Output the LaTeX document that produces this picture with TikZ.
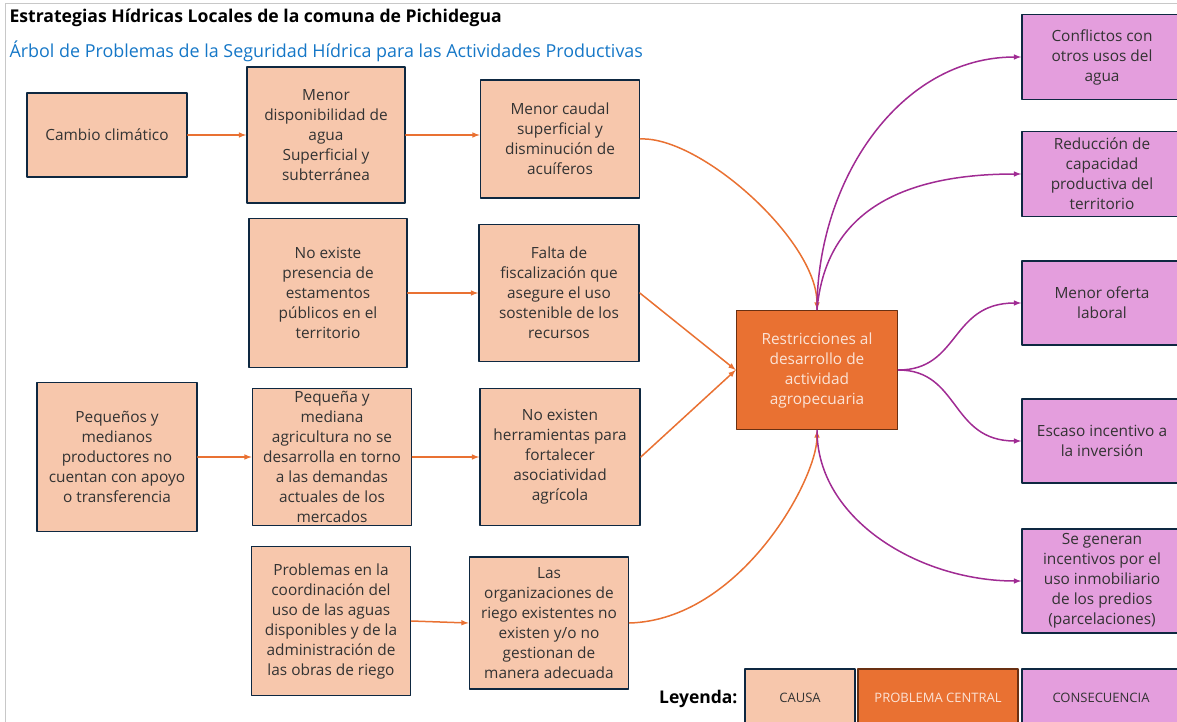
\documentclass[tikz,border=0pt]{standalone}
\usepackage{fontspec}
\setmainfont{Open Sans}
\definecolor{causafill}{RGB}{247,199,172}
\definecolor{centralfill}{RGB}{233,113,50}
\definecolor{consfill}{RGB}{228,158,221}
\definecolor{bordeazul}{RGB}{14,40,65}
\definecolor{bordecafe}{RGB}{105,48,18}
\definecolor{textocentral}{RGB}{251,227,214}
\definecolor{flechanaranja}{RGB}{233,113,50}
\definecolor{flechamorada}{RGB}{160,43,147}
\definecolor{tituloazul}{RGB}{21,119,199}
\definecolor{marcogris}{RGB}{200,200,200}

\begin{document}
\begin{tikzpicture}[x=1pt,y=-1pt,line cap=round,line join=round,
    caja/.style={draw=bordeazul,line width=1.6pt,align=center,inner sep=0pt,
        text=black!80,font=\fontsize{15.4}{20}\selectfont},
    causa/.style={caja,fill=causafill},
    problema/.style={caja,fill=centralfill,draw=bordecafe,text=textocentral},
    consecuencia/.style={caja,fill=consfill},
    leyendabox/.style={minimum height=58,font=\fontsize{13}{15}\selectfont},
    flechacausa/.style={flechanaranja,line width=1.5pt,-latex},
    flechaefecto/.style={flechamorada,line width=1.5pt,-latex}]
    \useasboundingbox (0,0) rectangle (1177,722);

    % Marco y titulos
    \draw[marcogris,line width=1pt] (5,722) -- (5,4) -- (1177,4);
    \node[anchor=west,font=\bfseries\fontsize{17.6}{20}\selectfont] (titulo)
        at (6,18) {Estrategias Hídricas Locales de la comuna de Pichidegua};
    \node[anchor=west,text=tituloazul,font=\fontsize{17.9}{20}\selectfont] (subtitulo)
        at (6,51) {Árbol de Problemas de la Seguridad Hídrica para las Actividades Productivas};

    % Causas
    \node[causa,minimum width=160,minimum height=84] (cambio) at (107,135)
        {Cambio climático};
    \node[causa,minimum width=158,minimum height=136] (disponibilidad) at (326,135)
        {Menor\\disponibilidad de\\agua\\Superficial y\\subterránea};
    \node[causa,minimum width=159,minimum height=118] (caudal) at (560,139)
        {Menor caudal\\superficial y\\disminución de\\acuíferos};
    \node[causa,minimum width=158,minimum height=149] (presencia) at (328,293)
        {No existe\\presencia de\\estamentos\\públicos en el\\territorio};
    \node[causa,minimum width=160,minimum height=137] (fiscalizacion) at (559,293)
        {Falta de\\fiscalización que\\asegure el uso\\sostenible de los\\recursos};
    \node[causa,minimum width=160,minimum height=149] (productores) at (117,457)
        {Pequeños y\\medianos\\productores no\\cuentan con apoyo\\o transferencia};
    \node[causa,minimum width=159,minimum height=137] (agricultura) at (332,457)
        {Pequeña y\\mediana\\agricultura no se\\desarrolla en torno\\a las demandas\\actuales de los\\mercados};
    \node[causa,minimum width=160,minimum height=137] (herramientas) at (560,457)
        {No existen\\herramientas para\\fortalecer\\asociatividad\\agrícola};
    \node[causa,minimum width=159,minimum height=149] (coordinacion) at (331,621)
        {Problemas en la\\coordinación del\\uso de las aguas\\disponibles y de la\\administración de\\las obras de riego};
    \node[causa,minimum width=159,minimum height=132] (organizaciones) at (549,623)
        {Las\\organizaciones de\\riego existentes no\\existen y/o no\\gestionan de\\manera adecuada};

    % Problema central
    \node[problema,minimum width=161,minimum height=119] (central) at (817,370)
        {Restricciones al\\desarrollo de\\actividad\\agropecuaria};

    % Consecuencias
    \node[consecuencia,minimum width=160,minimum height=85] (conflictos) at (1102,57)
        {Conflictos con\\otros usos del\\agua};
    \node[consecuencia,minimum width=160,minimum height=85] (reduccion) at (1102,174)
        {Reducción de\\capacidad\\productiva del\\territorio};
    \node[consecuencia,minimum width=160,minimum height=84] (oferta) at (1102,303)
        {Menor oferta\\laboral};
    \node[consecuencia,minimum width=160,minimum height=84] (incentivo) at (1102,441)
        {Escaso incentivo a\\la inversión};
    \node[consecuencia,minimum width=160,minimum height=104] (parcelas) at (1102,581)
        {Se generan\\incentivos por el\\uso inmobiliario\\de los predios\\(parcelaciones)};

    % Flechas de causas
    \draw[flechacausa] (cambio) -- (disponibilidad);
    \draw[flechacausa] (disponibilidad.east) -- (disponibilidad.east -| caudal.west);
    \draw[flechacausa] (presencia) -- (fiscalizacion);
    \draw[flechacausa] (productores) -- (agricultura);
    \draw[flechacausa] (agricultura) -- (herramientas);
    \draw[flechacausa] (coordinacion.east) -- (organizaciones.west);
    \draw[flechacausa] (caudal.east) .. controls (700,136) and (817,240) .. (central.north);
    \draw[flechacausa] (fiscalizacion.east) -- (central.west);
    \draw[flechacausa] (herramientas.east) -- (central.west);
    \draw[flechacausa] (organizaciones.east) .. controls (740,620) and (817,480) .. (central.south);

    % Flechas de consecuencias
    \draw[flechaefecto] (central.north) .. controls (817,180) and (900,57) .. (conflictos.west);
    \draw[flechaefecto] (central.north) .. controls (825,220) and (890,174) .. (reduccion.west);
    \draw[flechaefecto] (central.east) .. controls (960,370) and (950,303) .. (oferta.west);
    \draw[flechaefecto] (central.east) .. controls (960,370) and (950,441) .. (incentivo.west);
    \draw[flechaefecto] (central.south) .. controls (817,520) and (920,581) .. (parcelas.west);

    % Leyenda
    \node[anchor=east,font=\bfseries\fontsize{17.5}{20}\selectfont] (leyenda) at (741,699) {Leyenda:};
    \node[causa,leyendabox,minimum width=110] (leycausa) at (800,698) {CAUSA};
    \node[problema,leyendabox,minimum width=160] (leycentral) at (938,698) {PROBLEMA CENTRAL};
    \node[consecuencia,leyendabox,minimum width=158] (leycons) at (1101,698) {CONSECUENCIA};
\end{tikzpicture}
\end{document}
